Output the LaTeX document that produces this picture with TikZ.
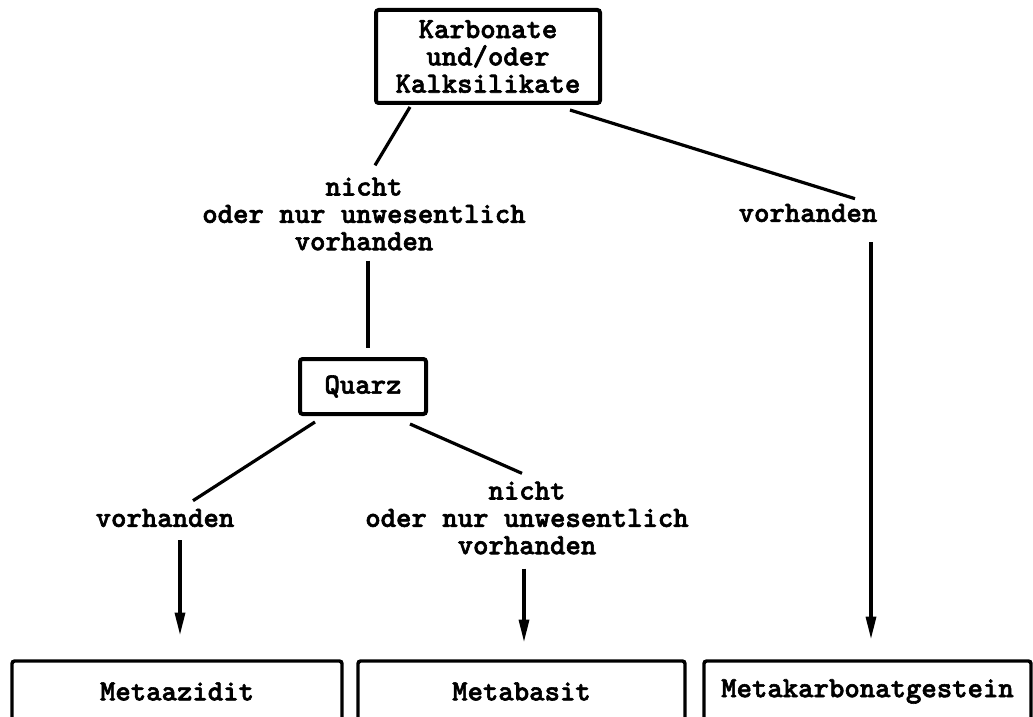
\documentclass[tikz,border=0pt]{standalone}
\usepackage{fontspec}
\newfontfamily\twfont{lmmonolt10-bold.otf}[FakeBold=2]
\usetikzlibrary{arrows.meta,calc}
\begin{document}
\begin{tikzpicture}[x=0.75pt,y=-0.75pt,
  tw/.style={font=\fontsize{22pt}{20.5pt}\selectfont\twfont},
  lbl/.style={tw,align=center,inner sep=0pt},
  box/.style={tw,draw,line width=3pt,rounded corners=2pt,inner sep=2pt,align=center},
  conn/.style={line width=2.4pt},
  arr/.style={line width=2.4pt,-{Triangle[length=17pt,width=7.5pt]}}]
\useasboundingbox (0,0) rectangle (1033,717);
\clip (0,0) rectangle (1033,717);
% boxes
\node[box,minimum width=168pt,minimum height=69.75pt] (top) at (488,56.5) {Karbonate\\und/oder\\Kalksilikate};
\node[box,minimum width=94.5pt,minimum height=41.25pt] (quarz) at (363,386.5) {Quarz};
\node[box,line width=2.6pt,minimum width=247.5pt,minimum height=45.75pt] (azid) at (177,691.5) {Metaazidit};
\node[box,line width=2.6pt,minimum width=245.25pt,minimum height=45.75pt] (basit) at (521.5,691.5) {Metabasit};
\node[box,line width=2.6pt,minimum width=245.25pt,minimum height=45.75pt] (karb) at (867.5,691.5) {Metakarbonatgestein};
% labels
\node[lbl] (l1) at (364,214) {nicht\\oder nur unwesentlich\\vorhanden};
\node[lbl] (r1) at (808,213) {vorhanden};
\node[lbl] (l2) at (165,518) {vorhanden};
\node[lbl] (m2) at (527,518) {nicht\\oder nur unwesentlich\\vorhanden};
% connectors
\draw[conn] ($(top.south west)+(36,2)$) -- ($(l1.north)+(11,-12)$);
\draw[conn] ($(top.south east)+(-32,5)$) -- ($(r1.north)+(47,-5)$);
\draw[conn] ($(l1.south)+(4,10)$) -- ($(quarz.north)+(5,-9)$);
\draw[conn] ($(quarz.south west)+(17,6)$) -- ($(l2.north)+(28,-8)$);
\draw[conn] ($(quarz.south east)+(-18,8)$) -- ($(m2.north)+(-5,-8)$);
\draw[arr] ($(l2.south)+(15,13)$) -- ($(azid.north)+(3,-24)$);
\draw[arr] ($(m2.south)+(-3,14)$) -- ($(basit.north)+(2.5,-17)$);
\draw[arr] ($(r1.south)+(63,20)$) -- ($(karb.north)+(3.5,-20)$);
\end{tikzpicture}
\end{document}
